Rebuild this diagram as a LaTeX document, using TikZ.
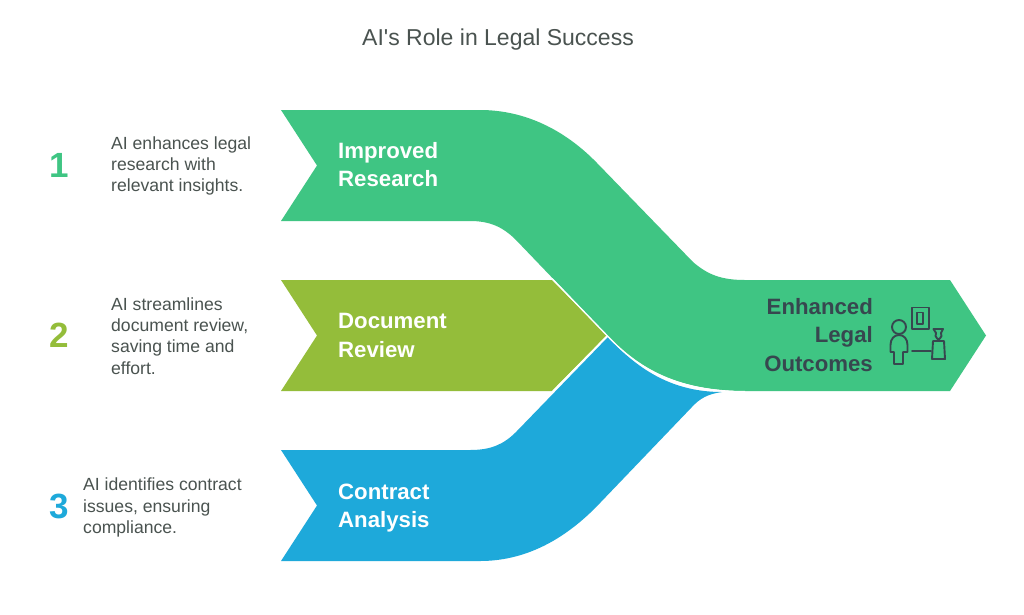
\documentclass[tikz,border=0pt]{standalone}
\usepackage{fontspec}
\setmainfont{Liberation Sans}
\newfontfamily\plainfont{Liberation Sans}
\definecolor{cgreen}{HTML}{3FC583}
\definecolor{colive}{HTML}{94BD3A}
\definecolor{cblue}{HTML}{1EA9DA}
\definecolor{cdark}{HTML}{37474F}
\definecolor{ctext}{HTML}{4A5350}
\tikzset{
 flow/.style={draw=none},
 gap/.style={draw=white,line width=1.3pt},
 lab/.style={font=\bfseries\fontsize{22.2}{28.5}\selectfont,text=white,align=left,anchor=west,inner sep=0pt},
 desc/.style={font=\fontsize{17.6}{21.2}\selectfont,text=ctext,align=left,anchor=west,inner sep=0pt},
 num/.style={font=\bfseries\fontsize{35}{40}\selectfont,anchor=center,inner sep=0pt},
 ico/.style={draw=cdark,line width=1.9pt,line join=round,line cap=round}
}
\begin{document}
\begin{tikzpicture}[x=1pt,y=-1pt]
\useasboundingbox (0,0) rectangle (1024,614);
\fill[white] (0,0) rectangle (1024,614);
% olive
\fill[colive,flow] (281,280) -- (552,280) -- (606.5,335.5) -- (552,391) -- (281,391) -- (317,335.5) -- cycle;
% blue
\fill[cblue,flow] (281,450) -- (470,450) .. controls (490,450) and (503,445) .. (516,432) -- (608,337)
  .. controls (640,372) and (675,392) .. (722,392) .. controls (708,394) and (700,398) .. (691,408)
  -- (600,503) .. controls (565,540) and (525,561) .. (480,561) -- (281,561) -- (317,505.5) -- cycle;
% green
\fill[cgreen,flow] (281,110) -- (480,110) .. controls (525,110) and (565,130) .. (597,163)
  -- (693,262) .. controls (708,275) and (722,280) .. (745,280) -- (950,280) -- (986,335.5) -- (950,391) -- (745,391)
  .. controls (680,391) and (640,370) .. (608,336) -- (516,240) .. controls (503,227) and (490,221) .. (470,221) -- (281,221) -- (317,165.5) -- cycle;
\draw[gap] (745,391.6) .. controls (680,391.6) and (640,370.6) .. (607.5,336) -- (552,278.5);
\draw[gap] (607,336) -- (552,392);
\node[font=\plainfont\fontsize{23}{28}\selectfont,text=ctext,anchor=center,inner sep=0pt] (title) at (498,40) {AI's Role in Legal Success};
\node[lab] (l1) at (338,164.5) {Improved\\Research};
\node[lab] (l2) at (338,335.5) {Document\\Review};
\node[lab] (l3) at (338,508) {Contract\\Analysis};
\node[lab,text=cdark,align=right,anchor=east] (l4) at (873,335) {Enhanced\\Legal\\Outcomes};
\node[num,text=cgreen] (n1) at (59,165) {1};
\node[num,text=colive] (n2) at (59,335) {2};
\node[num,text=cblue] (n3) at (59,506) {3};
\node[desc] (d1) at (111,166) {AI enhances legal\\research with\\relevant insights.};
\node[desc] (d2) at (111,336) {AI streamlines\\document review,\\saving time and\\effort.};
\node[desc] (d3) at (83,507.5) {AI identifies contract\\issues, ensuring\\compliance.};
% icon
\draw[ico] (912,307.5) rectangle (929,329);
\draw[ico] (917,312.5) rectangle (923,324);
\draw[ico] (899,327) circle (7);
\draw[ico] (894,352) -- (894,364) -- (903,364) -- (903,352) -- (907.5,352) -- (907.5,345) .. controls (907.5,339) and (904,335) .. (899,335) .. controls (894,335) and (890.5,339) .. (890.5,345) -- (890.5,352) -- cycle;
\draw[ico] (912,351) -- (931,351);
\draw[ico] (933,341) -- (944,341) -- (945,359) -- (932,359) -- cycle;
\draw[ico] (933.5,329) -- (943,329) -- (941,333) .. controls (943,335) and (941,337) .. (938.5,340) .. controls (936,337) and (934,335) .. (936,333) -- cycle;
\end{tikzpicture}
\end{document}
